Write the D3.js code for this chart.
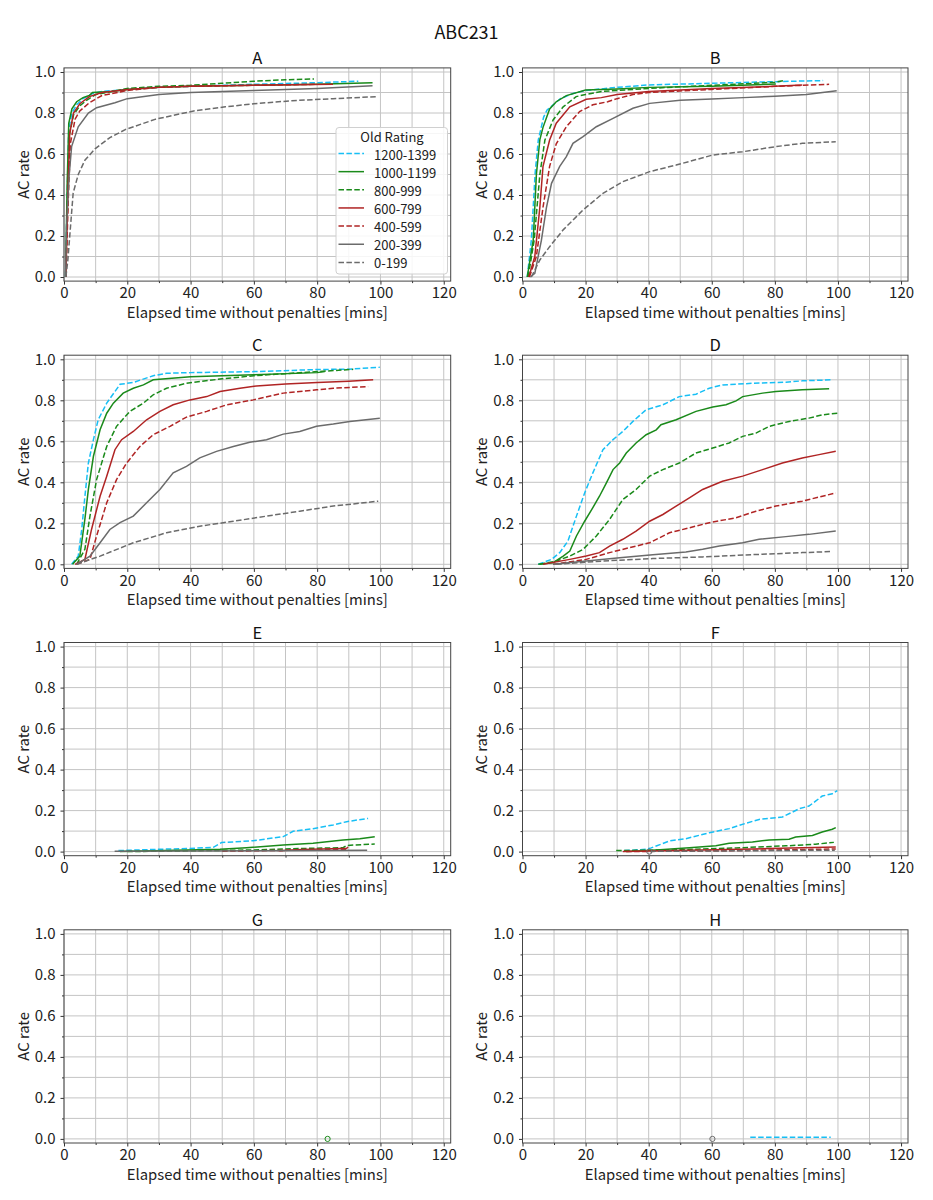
<!DOCTYPE html>
<html>
<head>
<meta charset="utf-8">
<script src="https://cdn.jsdelivr.net/npm/d3@7"></script>
<style>
  body { margin: 0; background: #fff; }
  svg { display: block; font-family: "Noto Sans CJK JP", "Noto Sans", sans-serif; }
</style>
</head>
<body>
<svg id="chart" width="933" height="1200"></svg>
<script>
// chart text
const figTitle = 'ABC231';
const panelTitles = ['A', 'B', 'C', 'D', 'E', 'F', 'G', 'H'];
const xLabel = 'Elapsed time without penalties [mins]';
const yLabel = 'AC rate';
const legendTitle = 'Old Rating';

// rating groups, in legend order
const groups = ['1200-1399', '1000-1199', '800-999', '600-799', '400-599', '200-399', '0-199'];
const groupColors = ['#17bff5', '#1a8a1a', '#1a8a1a', '#b02424', '#b02424', '#6b6b6b', '#6b6b6b'];
const groupDashed = [true, false, true, false, true, false, true];

const xTicks = [0, 20, 40, 60, 80, 100, 120];
const xMinor = [10, 30, 50, 70, 90, 110];
const yTicks = [0, 0.2, 0.4, 0.6, 0.8, 1.0];
const yMinor = [0.1, 0.3, 0.5, 0.7, 0.9];

// [minutes, AC rate] per group
const curvesA = [
  [[0.5,0],[1,0.4],[1.5,0.72],[2.5,0.8],[4,0.84],[6,0.87],[9,0.895],[12,0.905],[20,0.915],[30,0.925],[40,0.93],[60,0.94],[80,0.948],[93,0.955]],
  [[0.5,0],[1,0.45],[1.5,0.75],[2.5,0.82],[4,0.855],[6,0.875],[8,0.885],[9,0.9],[15,0.905],[20,0.915],[30,0.925],[40,0.93],[60,0.935],[80,0.94],[97.5,0.947]],
  [[0.6,0],[1.2,0.4],[1.8,0.7],[3,0.79],[5,0.835],[7,0.86],[10,0.89],[15,0.905],[20,0.92],[30,0.93],[40,0.935],[50,0.945],[60,0.955],[70,0.962],[79,0.966]],
  [[0.6,0],[1.2,0.4],[1.8,0.7],[3,0.8],[5,0.845],[8,0.88],[12,0.9],[20,0.915],[30,0.925],[40,0.93],[60,0.935],[85,0.94]],
  [[0.6,0],[1.4,0.4],[2,0.65],[3.5,0.77],[5,0.81],[8,0.85],[12,0.885],[20,0.91],[30,0.925],[40,0.93],[60,0.935],[80,0.94]],
  [[0.5,0],[0.8,0.245],[1.6,0.49],[2.4,0.636],[4.5,0.733],[7.7,0.8],[10.3,0.826],[16.1,0.85],[20,0.87],[30,0.89],[40,0.9],[60,0.91],[80,0.92],[97.5,0.933]],
  [[0.6,0],[1.2,0.08],[2.9,0.41],[4.5,0.5],[6.6,0.57],[9.8,0.625],[14.5,0.68],[19.5,0.72],[29,0.77],[41,0.81],[51,0.83],[60,0.845],[72,0.86],[85,0.87],[99,0.88]]
];
const curvesB = [
  [[1.5,0],[2.8,0.18],[4,0.506],[5,0.668],[6.7,0.78],[7.8,0.815],[9,0.83],[12,0.87],[16,0.895],[20,0.91],[30,0.925],[40,0.937],[60,0.945],[80,0.953],[95.3,0.958]],
  [[1.5,0],[3.4,0.18],[4.4,0.5],[5.5,0.67],[6.5,0.73],[8.6,0.82],[10.7,0.855],[13.9,0.885],[20,0.912],[30,0.917],[40,0.925],[60,0.93],[80.3,0.941]],
  [[1.8,0],[3.7,0.18],[5.5,0.5],[7.1,0.668],[9.7,0.766],[12.9,0.83],[17,0.88],[20,0.89],[25,0.905],[30,0.91],[40,0.92],[60,0.935],[80,0.95],[82.9,0.958]],
  [[2,0],[3.9,0.1],[5.5,0.34],[6.5,0.54],[8.6,0.668],[10.7,0.75],[15,0.83],[20.2,0.867],[25,0.875],[30,0.89],[40,0.905],[60,0.92],[80,0.93],[88.7,0.937]],
  [[2.2,0],[4.4,0.1],[6.5,0.34],[8.6,0.54],[10.7,0.65],[13.9,0.733],[18.1,0.807],[22.3,0.84],[27,0.855],[30,0.87],[35,0.89],[40,0.9],[60,0.915],[80,0.93],[97.2,0.94]],
  [[2.5,0],[3.9,0.018],[6,0.18],[7.6,0.34],[9.2,0.457],[11.8,0.54],[13.9,0.587],[16,0.652],[19.2,0.685],[23.4,0.733],[28.7,0.774],[35,0.823],[40.3,0.847],[50,0.862],[60,0.868],[70,0.875],[80,0.882],[90,0.89],[99.6,0.909]],
  [[2.8,0],[5.5,0.083],[8.6,0.148],[12.9,0.23],[19.2,0.327],[25.5,0.408],[31.8,0.465],[40.3,0.514],[48.7,0.546],[60.3,0.595],[69.8,0.611],[80.3,0.636],[88.7,0.652],[99.3,0.66]]
];
const curvesC = [
  [[2.4,0],[4.5,0.04],[5.6,0.17],[6.6,0.33],[7.7,0.494],[9.3,0.608],[10.8,0.705],[13.5,0.786],[17.7,0.878],[21.9,0.887],[28.2,0.92],[32.4,0.932],[40,0.935],[60,0.94],[80,0.95],[90,0.952],[99.8,0.961]],
  [[2.7,0],[5,0.04],[6.6,0.22],[7.7,0.365],[9.3,0.527],[11.4,0.656],[13.5,0.737],[15.6,0.786],[18.7,0.835],[21.9,0.859],[25.1,0.875],[28.2,0.9],[40,0.915],[60,0.925],[80,0.935],[82.4,0.94]],
  [[4,0],[6.6,0.073],[8.2,0.235],[10.3,0.413],[13.5,0.575],[16.6,0.673],[20.8,0.746],[25.1,0.786],[28.2,0.827],[32.4,0.859],[38.7,0.883],[50,0.905],[60,0.92],[70,0.93],[80,0.94],[91.4,0.951]],
  [[3.5,0],[6.6,0.024],[8.7,0.17],[11.4,0.332],[13.5,0.43],[16.1,0.559],[18.2,0.608],[21.9,0.648],[26.1,0.705],[30.3,0.746],[34.5,0.778],[39.8,0.802],[45.1,0.818],[49.3,0.843],[55.6,0.859],[60.8,0.87],[70,0.88],[80,0.887],[90,0.893],[97.7,0.9]],
  [[4,0],[8.2,0.024],[10.3,0.138],[13.5,0.3],[16.6,0.413],[19.8,0.494],[24,0.575],[28.2,0.632],[33.5,0.673],[38.7,0.718],[45.1,0.746],[51.4,0.778],[59.8,0.802],[69.3,0.835],[79.8,0.851],[85.1,0.859],[96.1,0.867]],
  [[4,0],[8.2,0.04],[11.4,0.105],[14.5,0.17],[17.7,0.203],[21.9,0.235],[26.1,0.3],[30.3,0.365],[34.5,0.446],[38.7,0.478],[42.9,0.519],[48.2,0.551],[53.5,0.575],[58.7,0.595],[64,0.608],[69.3,0.635],[74.5,0.648],[79.8,0.673],[85.1,0.684],[90.3,0.697],[99.8,0.713]],
  [[4,0],[11.4,0.04],[21.9,0.105],[32.4,0.154],[42.9,0.186],[53.5,0.21],[64,0.235],[74.5,0.259],[85.1,0.284],[99.3,0.308]]
];
const curvesD = [
  [[5,0],[9.2,0.024],[11.8,0.057],[14.4,0.113],[17.1,0.235],[19.7,0.348],[22.3,0.446],[25.5,0.559],[28.7,0.608],[31.8,0.648],[35,0.697],[39.2,0.754],[44.5,0.778],[49.7,0.818],[55,0.83],[59.2,0.859],[63.4,0.875],[72.9,0.883],[83.5,0.888],[88.7,0.895],[98.2,0.9]],
  [[5,0],[9.7,0.008],[12.9,0.04],[15,0.065],[17.1,0.138],[19.7,0.21],[22.3,0.276],[24.4,0.332],[26.6,0.397],[28.7,0.462],[30.8,0.494],[32.9,0.543],[36,0.592],[39.2,0.632],[42.4,0.656],[43.9,0.681],[48.7,0.705],[55,0.746],[60.3,0.767],[64.5,0.778],[67.7,0.797],[69.8,0.818],[76.1,0.835],[80.3,0.843],[88.7,0.851],[97.2,0.856]],
  [[5.5,0],[10.7,0.016],[15,0.04],[19.2,0.073],[23.4,0.138],[27.6,0.219],[31.8,0.316],[36,0.365],[40.3,0.43],[44.5,0.462],[49.7,0.494],[55,0.543],[60.3,0.567],[65.5,0.592],[69.8,0.624],[74,0.64],[78.2,0.673],[84.5,0.697],[90.8,0.713],[95,0.729],[99.8,0.737]],
  [[6.5,0],[15,0.024],[20.2,0.04],[24.4,0.057],[27.6,0.089],[31.8,0.122],[36,0.162],[40.3,0.21],[44.5,0.243],[48.7,0.284],[52.9,0.324],[57.1,0.365],[63.4,0.405],[69.8,0.43],[76.1,0.462],[82.4,0.494],[88.7,0.519],[94,0.535],[99.3,0.551]],
  [[9.7,0],[20.2,0.024],[27.6,0.057],[33.9,0.081],[40.3,0.105],[46.6,0.154],[52.9,0.178],[59.2,0.203],[67.7,0.227],[74,0.259],[80.3,0.284],[88.7,0.308],[99.3,0.348]],
  [[9.7,0],[20.2,0.016],[30.8,0.032],[41.3,0.047],[51.8,0.06],[57.1,0.073],[62.4,0.089],[69.8,0.105],[75,0.122],[83.5,0.135],[90.8,0.146],[99.3,0.162]],
  [[10.7,0],[25.5,0.016],[41.3,0.028],[57.1,0.036],[72.9,0.047],[88.7,0.057],[97.7,0.062]]
];
const curvesE = [
  [[17.2,0.005],[29.3,0.011],[38.7,0.015],[47.2,0.021],[49.8,0.044],[59.8,0.053],[69.3,0.073],[72.4,0.099],[78.7,0.112],[85.1,0.13],[89.3,0.146],[96.1,0.162]],
  [[17.7,0],[49.3,0.011],[57.7,0.019],[69.3,0.032],[78.7,0.041],[88.2,0.057],[93.5,0.063],[98.2,0.073]],
  [[20,0],[60,0.008],[74.5,0.015],[88.2,0.019],[89.3,0.03],[98.2,0.037]],
  [[68,0.004],[75,0.01],[85,0.014],[89.3,0.016],[89.8,0.022]],
  [[50,0.002],[70,0.006],[89.5,0.01]],
  [[16,0.002],[60,0.004],[95.8,0.006]],
  []
];
const curvesF = [
  [[32.3,0.005],[39.2,0.011],[40.8,0.018],[46.6,0.052],[51.8,0.063],[59.2,0.092],[65.5,0.112],[70.8,0.138],[75,0.157],[82.4,0.169],[85.6,0.193],[87.7,0.209],[90.8,0.222],[92.9,0.246],[95,0.271],[98.2,0.282],[99.8,0.298]],
  [[32.9,0],[42.4,0.008],[52.9,0.019],[61.3,0.028],[65.5,0.041],[72.9,0.047],[78.2,0.057],[84.5,0.06],[86.6,0.071],[91.9,0.079],[95,0.096],[98.2,0.109],[99.3,0.117]],
  [[29.7,0.005],[46.6,0.008],[67.7,0.018],[83.5,0.028],[92.9,0.036],[98.7,0.045]],
  [[31.8,0],[57.1,0.008],[78.2,0.015],[99.3,0.023]],
  [[32.9,0],[67.7,0.005],[99.3,0.013]],
  [[40.2,0]],
  [[40.5,0.001],[70,0.004],[99,0.007]]
];
const curvesG = [[], [[83.3,0]], [], [], [], [], []];
const curvesH = [[[72.2,0.008],[97.7,0.008]], [], [], [], [], [[60.2,0]], []];

const panels = [curvesA, curvesB, curvesC, curvesD, curvesE, curvesF, curvesG, curvesH];

const svg = d3.select('#chart');
const rowStep = 287.3;

svg.append('text')
  .attr('x', 466.5).attr('y', 31)
  .attr('text-anchor', 'middle').attr('dominant-baseline', 'central')
  .style('font-size', '18px').style('fill', '#111')
  .text(figTitle);

panels.forEach((curves, i) => {
  let col = i % 2;
  let row = Math.floor(i / 2);
  let off = row * rowStep;
  let x = d3.scaleLinear().domain([0, 122.2]).range(col ? [522.5, 908] : [64, 450.7]);
  let y = d3.scaleLinear().domain([-0.02, 1.02]).range([281.1 + off, 67.9 + off]);
  let [x0, x1] = x.range();
  let [yb, yt] = y.range();
  let g = svg.append('g');

  // grid, major and minor
  g.append('g').selectAll('line')
    .data(xTicks.concat(xMinor))
    .join('line')
    .attr('x1', d => x(d)).attr('x2', d => x(d))
    .attr('y1', yt).attr('y2', yb)
    .attr('stroke', '#c4c4c4').attr('stroke-width', 1);
  g.append('g').selectAll('line')
    .data(yTicks.concat(yMinor))
    .join('line')
    .attr('x1', x0).attr('x2', x1)
    .attr('y1', d => y(d)).attr('y2', d => y(d))
    .attr('stroke', '#c4c4c4').attr('stroke-width', 1);

  // curves
  let lineFn = d3.line().x(d => x(d[0])).y(d => y(d[1]));
  curves.forEach((pts, k) => {
    if (pts.length > 1) {
      g.append('path')
        .attr('d', lineFn(pts))
        .attr('fill', 'none')
        .attr('stroke', groupColors[k])
        .attr('stroke-width', 1.5)
        .attr('stroke-dasharray', groupDashed[k] ? '5.5,2.4' : null);
    } else if (pts.length == 1) {
      g.append('circle')
        .attr('cx', x(pts[0][0])).attr('cy', y(pts[0][1]))
        .attr('r', 2.6)
        .attr('fill', 'none')
        .attr('stroke', groupColors[k])
        .attr('stroke-width', 1);
    }
  });

  // axes
  let xAxis = d3.axisBottom(x).tickValues(xTicks).tickSize(3.5).tickPadding(3).tickFormat(d3.format('d'));
  let xAxisMinor = d3.axisBottom(x).tickValues(xMinor).tickSize(2).tickFormat('');
  let yAxis = d3.axisLeft(y).tickValues(yTicks).tickSize(3.5).tickPadding(5).tickFormat(d3.format('.1f'));
  let yAxisMinor = d3.axisLeft(y).tickValues(yMinor).tickSize(2).tickFormat('');

  [xAxis, xAxisMinor].forEach(ax => {
    g.append('g').attr('transform', `translate(0,${yb})`).call(ax);
  });
  [yAxis, yAxisMinor].forEach(ax => {
    g.append('g').attr('transform', `translate(${x0},0)`).call(ax);
  });
  g.selectAll('.domain').remove();
  g.selectAll('.tick line').attr('stroke', '#333');
  g.selectAll('.tick text').style('font-size', '15px').style('font-family', '"Noto Sans CJK JP", sans-serif').attr('fill', '#222');

  g.append('rect')
    .attr('x', x0).attr('y', yt)
    .attr('width', x1 - x0).attr('height', yb - yt)
    .attr('fill', 'none').attr('stroke', '#444').attr('stroke-width', 1);

  // titles and labels
  g.append('text')
    .attr('x', (x0 + x1) / 2).attr('y', yt - 11)
    .attr('text-anchor', 'middle').attr('dominant-baseline', 'central')
    .style('font-size', '16.5px').style('fill', '#111')
    .text(panelTitles[i]);
  g.append('text')
    .attr('x', (x0 + x1) / 2).attr('y', yb + 30)
    .attr('text-anchor', 'middle').attr('dominant-baseline', 'central')
    .style('font-size', '14.8px').style('fill', '#222')
    .text(xLabel);
  g.append('text')
    .attr('transform', `translate(${x0 - 42},${(yt + yb) / 2})rotate(-90)`)
    .attr('text-anchor', 'middle').attr('dominant-baseline', 'central')
    .style('font-size', '14.8px').style('fill', '#222')
    .text(yLabel);

  // legend only in the first panel
  if (i == 0) {
    let lg = g.append('g').attr('transform', 'translate(336,127.5)');
    lg.append('rect')
      .attr('width', 111.5).attr('height', 146.5)
      .attr('rx', 3)
      .attr('fill', 'white').attr('fill-opacity', 0.85)
      .attr('stroke', '#d0d0d0');
    lg.append('text')
      .attr('x', 56).attr('y', 8.5)
      .attr('text-anchor', 'middle').attr('dominant-baseline', 'central')
      .style('font-size', '13px').style('fill', '#222')
      .text(legendTitle);
    let items = lg.selectAll('g.item')
      .data(groups)
      .join('g')
      .attr('class', 'item')
      .attr('transform', (d, k) => `translate(0,${26 + k * 18.15})`);
    items.append('line')
      .attr('x1', 2.5).attr('x2', 28)
      .attr('stroke', (d, k) => groupColors[k])
      .attr('stroke-width', 1.5)
      .attr('stroke-dasharray', (d, k) => groupDashed[k] ? '5.5,2.4' : null);
    items.append('text')
      .attr('x', 38).attr('y', 0.5)
      .attr('dominant-baseline', 'central')
      .style('font-size', '13px').style('fill', '#222')
      .text(d => d);
  }
});
</script>
</body>
</html>
